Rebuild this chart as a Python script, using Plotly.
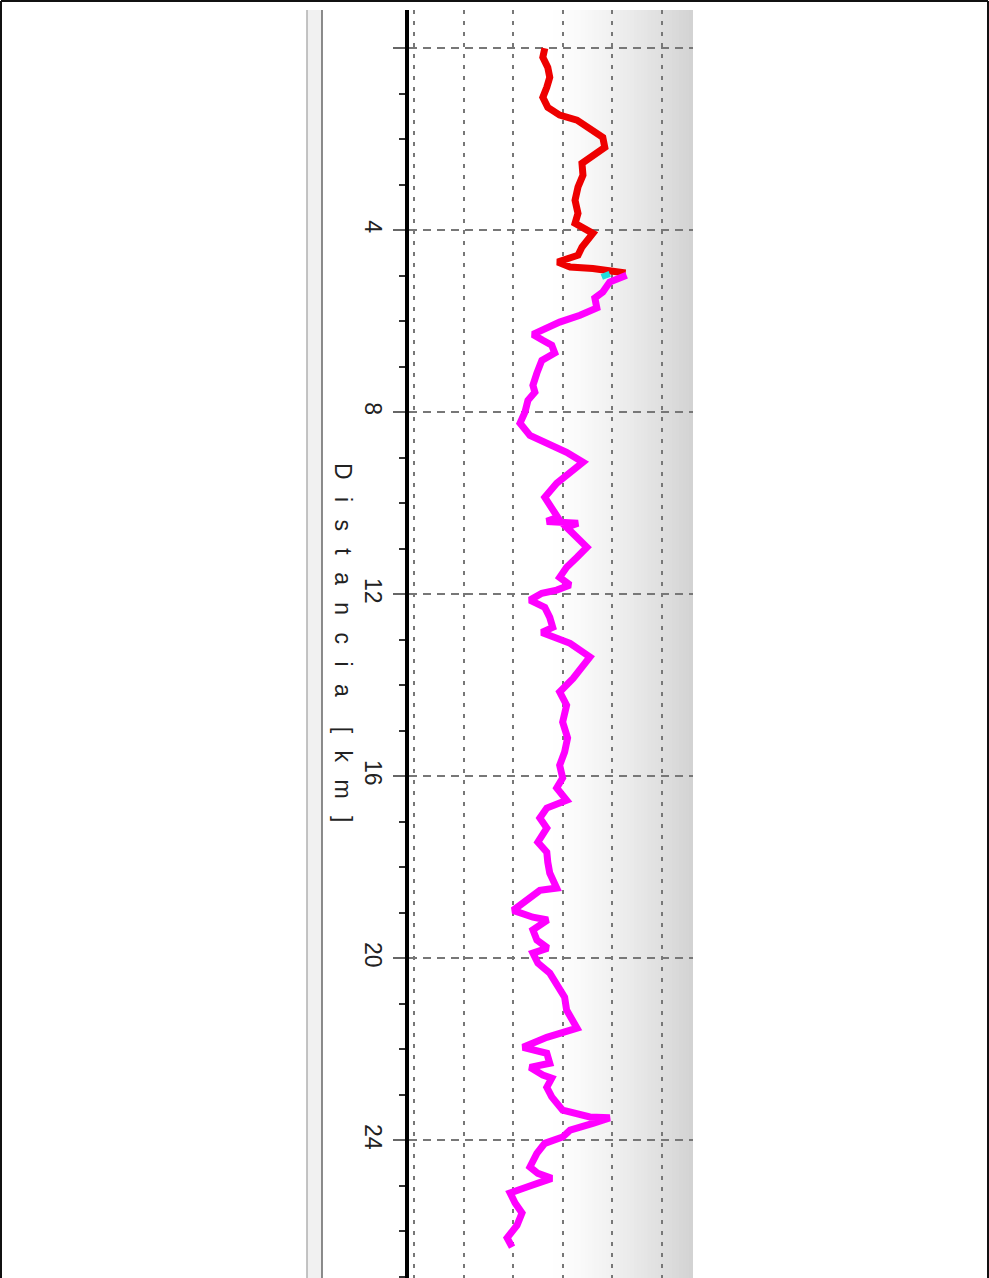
import plotly.graph_objects as go

# distance along the profile [km] and the plotted value (grid units)
red_km = [0.00, 0.20, 0.42, 0.64, 0.86, 1.08, 1.30, 1.47, 1.58, 1.76, 1.96, 2.18, 2.35,
          2.53, 2.79, 3.05, 3.34, 3.63, 3.85, 4.07, 4.37, 4.55, 4.70, 4.81, 4.84, 4.88, 4.94]
red_val = [2.64, 2.60, 2.70, 2.74, 2.68, 2.60, 2.70, 2.94, 3.29, 3.55, 3.81, 3.85, 3.61,
           3.39, 3.41, 3.31, 3.25, 3.31, 3.25, 3.61, 3.39, 3.31, 2.90, 3.15, 3.61, 4.01, 4.27]

cyan_km = [4.96, 5.03]
cyan_val = [3.95, 3.79]

mag_km = [4.99, 5.14, 5.36, 5.49, 5.71, 5.87, 6.02, 6.20, 6.29, 6.42, 6.53, 6.70, 6.86,
          7.14, 7.41, 7.56, 7.74, 8.00, 8.24, 8.51, 8.68, 8.88, 9.10, 9.34, 9.56, 9.87,
          10.09, 10.31, 10.40, 10.44, 10.53, 10.75, 10.97, 11.19, 11.41, 11.63, 11.80,
          11.91, 11.98, 12.13, 12.29, 12.51, 12.73, 12.84, 12.95, 13.08, 13.38, 13.60,
          13.85, 14.15, 14.44, 14.81, 15.16, 15.47, 15.76, 16.04, 16.26, 16.53, 16.70,
          16.92, 17.14, 17.45, 17.67, 17.89, 18.13, 18.46, 18.51, 18.95, 19.10, 19.16,
          19.38, 19.60, 19.78, 19.89, 20.11, 20.33, 20.55, 20.86, 21.14, 21.54, 21.74,
          21.96, 22.09, 22.31, 22.40, 22.57, 22.64, 22.84, 23.05, 23.34, 23.49, 23.51,
          23.63, 23.78, 23.93, 24.07, 24.29, 24.59, 24.73, 24.84, 25.03, 25.16, 25.38,
          25.60, 25.87, 26.15, 26.35]
mag_val = [4.29, 3.95, 3.81, 3.65, 3.69, 3.35, 2.94, 2.60, 2.40, 2.60, 2.78, 2.84, 2.58,
           2.48, 2.40, 2.44, 2.30, 2.24, 2.14, 2.34, 2.68, 3.08, 3.41, 3.15, 2.88, 2.64,
           2.78, 2.90, 2.68, 3.31, 3.08, 3.31, 3.49, 3.29, 3.08, 2.94, 3.15,
           2.88, 2.58, 2.34, 2.64, 2.74, 2.80, 2.58, 2.88, 3.15, 3.55, 3.41,
           3.21, 2.94, 3.08, 3.00, 3.10, 3.04, 2.94, 3.00, 2.88, 3.08, 2.68,
           2.54, 2.68, 2.50, 2.68, 2.70, 2.74, 2.88, 2.54, 2.00, 2.40, 2.70,
           2.40, 2.48, 2.70, 2.40, 2.50, 2.74, 2.88, 3.04, 3.08, 3.29, 2.68,
           2.20, 2.68, 2.74, 2.34, 2.60, 2.78, 2.68, 2.78, 3.00, 3.55, 3.95,
           3.61, 3.15, 3.00, 2.64, 2.48, 2.34, 2.50, 2.78, 2.28, 1.94, 2.04,
           2.18, 2.08, 1.88, 1.98]

km_ticks = [0, 4, 8, 12, 16, 20, 24]
km_labels = ["", "4", "8", "12", "16", "20", "24"]
gap = "\u2009  "
axis_title = gap.join("Distancia") + gap + "  " + gap.join("[km]")

W, H = 989, 1278
L, R, T, B = 409, 296, 10, 0
x_range = [-0.10, 5.63]
y_range = [27.03, -0.84]

fig = go.Figure()
fig.add_trace(go.Scatter(x=red_val, y=red_km, mode="lines",
                         line=dict(color="#ee0000", width=7)))
fig.add_trace(go.Scatter(x=mag_val, y=mag_km, mode="lines",
                         line=dict(color="#ff00ff", width=7)))
fig.add_trace(go.Scatter(x=cyan_val, y=cyan_km, mode="lines",
                         line=dict(color="#22dddd", width=6)))

shapes = []
# grey gradient at the right of the plot area
n = 40
g0, g1 = 2.8, x_range[1]
for i in range(n):
    a = g0 + (g1 - g0) * i / n
    b = g0 + (g1 - g0) * (i + 1) / n
    t = (i + 0.5) / n
    c = int(255 - 44 * t ** 1.3)
    shapes.append(dict(type="rect", xref="x", yref="paper", x0=a, x1=b + 0.01, y0=0, y1=1,
                       fillcolor=f"rgb({c},{c},{c})", line=dict(width=0), layer="below"))


def px_x(p):
    return (p - L) / (W - L - R)


def px_y(p):
    return 1 - (p - T) / (H - T - B)


# thin panel bar left of the axis
shapes.append(dict(type="rect", xref="paper", yref="paper", x0=px_x(307), x1=px_x(322),
                   y0=0, y1=1, fillcolor="#f1f1f1", line=dict(width=0)))
shapes.append(dict(type="line", xref="paper", yref="paper", x0=px_x(307), x1=px_x(307),
                   y0=0, y1=1, line=dict(color="#b0b0b0", width=1.5)))
shapes.append(dict(type="line", xref="paper", yref="paper", x0=px_x(322), x1=px_x(322),
                   y0=0, y1=1, line=dict(color="#666666", width=1.5)))
# outer frame
shapes.append(dict(type="line", xref="paper", yref="paper", x0=px_x(1), x1=px_x(988),
                   y0=px_y(1), y1=px_y(1), line=dict(color="#111", width=2)))
shapes.append(dict(type="line", xref="paper", yref="paper", x0=px_x(1), x1=px_x(1),
                   y0=px_y(1), y1=px_y(H), line=dict(color="#111", width=2)))
shapes.append(dict(type="line", xref="paper", yref="paper", x0=px_x(988), x1=px_x(988),
                   y0=px_y(1), y1=px_y(H), line=dict(color="#111", width=2)))

fig.update_layout(
    width=W, height=H,
    margin=dict(l=L, r=R, t=T, b=B, pad=0),
    paper_bgcolor="white",
    plot_bgcolor="white",
    showlegend=False,
    shapes=shapes,
    font=dict(family="Liberation Sans, Arial, sans-serif", color="#222"),
    xaxis=dict(range=x_range, showticklabels=False, ticks="", tick0=0, dtick=1,
               showgrid=True, gridcolor="#777", gridwidth=1.5, griddash="4px,7px",
               zeroline=False, showline=False),
    yaxis=dict(range=y_range, tickmode="array", tickvals=km_ticks, ticktext=km_labels,
               tickangle=90, tickfont=dict(size=23, color="#222"),
               ticks="outside", ticklen=12, tickcolor="#666", tickwidth=1.5,
               showgrid=True, gridcolor="#777", gridwidth=1.5, griddash="8px,6px",
               zeroline=False, showline=True, linecolor="black", linewidth=4,
               minor=dict(tick0=0, dtick=1, ticks="outside", ticklen=6,
                          tickcolor="#333", tickwidth=1.5, showgrid=False)),
    annotations=[dict(text=axis_title, textangle=90,
                      xref="paper", yref="paper", x=px_x(328), y=px_y(642),
                      showarrow=False, font=dict(size=23, color="#222"))],
)

fig.write_html("out.html", config={"displayModeBar": False},
               post_script="document.body.style.margin='0';")
